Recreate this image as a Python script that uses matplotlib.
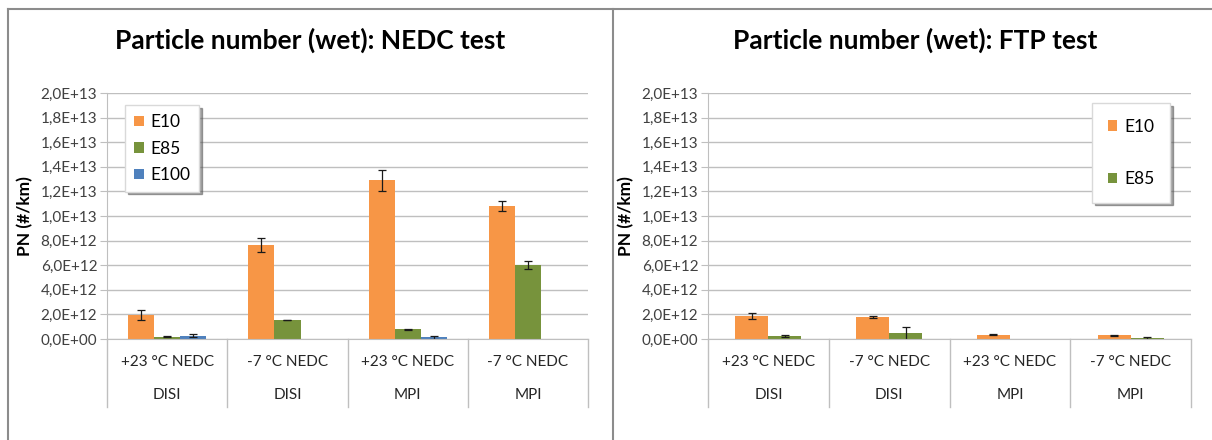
import matplotlib
matplotlib.use("Agg")
import matplotlib.pyplot as plt
from matplotlib.ticker import FuncFormatter, MultipleLocator
from matplotlib.lines import Line2D
import numpy as np

plt.rcParams['font.family'] = ['Lato', 'DejaVu Sans']

# 类别: 温度/循环 和 发动机
cycles = ["+23 °C NEDC", "-7 °C NEDC", "+23 °C NEDC", "-7 °C NEDC"]
engines = ["DISI", "DISI", "MPI", "MPI"]

# NEDC 测试 (#/km), nan = 未测
nedc_e10 = [1.97e12, 7.65e12, 12.9e12, 10.85e12]
nedc_e10_err = [0.4e12, 0.6e12, 0.85e12, 0.4e12]
nedc_e85 = [0.2e12, 1.55e12, 0.79e12, 6.02e12]
nedc_e85_err = [0.03e12, 0.03e12, 0.02e12, 0.35e12]
nedc_e100 = [0.27e12, np.nan, 0.14e12, np.nan]
nedc_e100_err = [0.12e12, np.nan, 0.12e12, np.nan]

# FTP 测试 (#/km)
ftp_e10 = [1.85e12, 1.77e12, 0.33e12, 0.3e12]
ftp_e10_err = [0.25e12, 0.08e12, 0.04e12, 0.04e12]
ftp_e85 = [0.22e12, 0.46e12, np.nan, 0.08e12]
ftp_e85_err = [0.08e12, 0.55e12, np.nan, 0.05e12]

C_E10 = "#F79646"
C_E85 = "#77933C"
C_E100 = "#4F81BD"
GRID = "#BFBFBF"
FRAME = "#8C8C8C"

fig = plt.figure(figsize=(12.12, 4.4), dpi=100)


def sci_comma(v, pos):
    return ("%.1E" % v).replace(".", ",")


def setup_axes(ax):
    x = np.arange(len(cycles))
    ax.set_xlim(-0.5, len(cycles) - 0.5)
    ax.set_ylim(0, 2.0e13)
    ax.yaxis.set_major_locator(MultipleLocator(2.0e12))
    ax.yaxis.set_major_formatter(FuncFormatter(sci_comma))
    ax.grid(axis="y", color=GRID, lw=1.0)
    ax.set_axisbelow(True)
    for s in ("top", "right"):
        ax.spines[s].set_visible(False)
    ax.spines["left"].set_color(GRID)
    ax.spines["bottom"].set_color(GRID)
    ax.tick_params(axis="y", length=5, color=GRID, labelsize=11, labelcolor="#404040", pad=2)
    ax.tick_params(axis="x", length=0, labelbottom=False)
    ax.set_ylabel("PN (#/km)", fontsize=12.5, fontweight="bold", labelpad=5)
    # 分类标签及分隔线
    tr = ax.get_xaxis_transform()
    for b in np.arange(len(cycles) + 1) - 0.5:
        ax.plot([b, b], [0, -0.276], transform=tr, color=GRID, lw=1.0, clip_on=False)
    for i in x:
        ax.text(i, -0.095, cycles[i], transform=tr, ha="center", va="center",
                fontsize=11, color="#262626")
        ax.text(i, -0.226, engines[i], transform=tr, ha="center", va="center",
                fontsize=11, color="#262626")
    return x


err_kw = dict(ecolor="#1a1a1a", elinewidth=0.9, capsize=3, capthick=0.9)

# 左图: NEDC
ax1 = fig.add_axes([0.0883, 0.2295, 0.397, 0.559])
x = setup_axes(ax1)
w = 0.217
ax1.bar(x - w, nedc_e10, w, yerr=nedc_e10_err, color=C_E10, label="E10", error_kw=err_kw)
ax1.bar(x, nedc_e85, w, yerr=nedc_e85_err, color=C_E85, label="E85", error_kw=err_kw)
ax1.bar(x + w, nedc_e100, w, yerr=nedc_e100_err, color=C_E100, label="E100", error_kw=err_kw)
leg1 = ax1.legend(loc="upper left", bbox_to_anchor=(0.02, 0.985), fontsize=12.5,
                  frameon=True, fancybox=False, shadow=True, handlelength=0.55,
                  handleheight=0.55, handletextpad=0.4, labelspacing=0.6,
                  borderpad=0.5, edgecolor="#D9D9D9")

# 右图: FTP
ax2 = fig.add_axes([0.5842, 0.2295, 0.3985, 0.559])
x = setup_axes(ax2)
w2 = 0.273
ax2.bar(x - w2 / 2, ftp_e10, w2, yerr=ftp_e10_err, color=C_E10, label="E10", error_kw=err_kw)
ax2.bar(x + w2 / 2, ftp_e85, w2, yerr=ftp_e85_err, color=C_E85, label="E85", error_kw=err_kw)
leg2 = ax2.legend(loc="upper right", bbox_to_anchor=(0.975, 0.995), fontsize=12.5,
                  frameon=True, fancybox=False, shadow=True, handlelength=0.55,
                  handleheight=0.55, handletextpad=0.4, labelspacing=2.1,
                  borderpad=0.9, edgecolor="#D9D9D9")

# 标题
fig.text(0.256, 0.908, "Particle number (wet): NEDC test", ha="center", va="center",
         fontsize=19, fontweight="bold")
fig.text(0.755, 0.908, "Particle number (wet): FTP test", ha="center", va="center",
         fontsize=19, fontweight="bold")

# 外框
fig.add_artist(Line2D([8 / 1212, 1], [1 - 9 / 440] * 2, color=FRAME, lw=1.5))
fig.add_artist(Line2D([8 / 1212] * 2, [0, 1 - 9 / 440], color=FRAME, lw=1.5))
fig.add_artist(Line2D([613 / 1212] * 2, [0, 1 - 9 / 440], color=FRAME, lw=1.5))

plt.savefig("out.png", dpi=100)
